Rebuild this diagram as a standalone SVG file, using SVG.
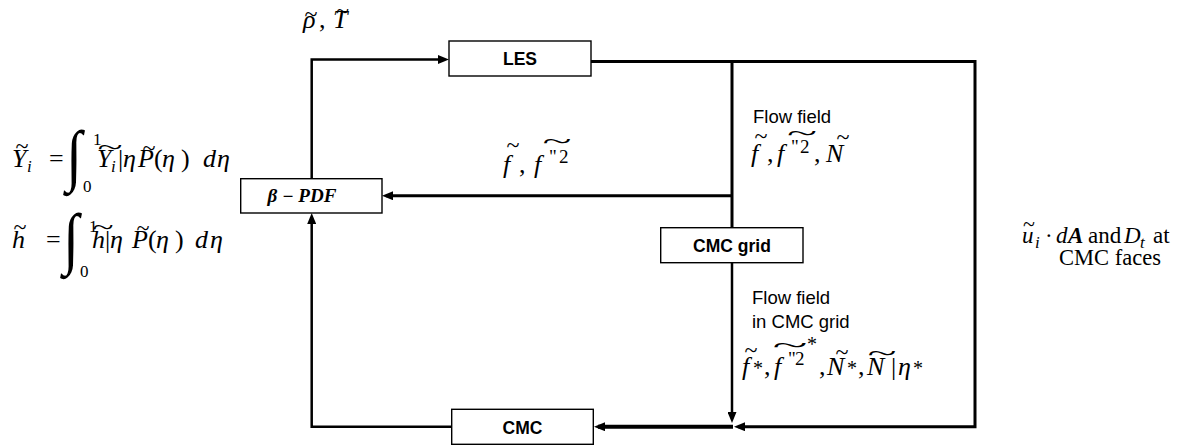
<svg xmlns="http://www.w3.org/2000/svg" width="1204" height="447" viewBox="0 0 1204 447">
<style>
.box{fill:#fff;stroke:#000;stroke-width:1.4}
.lbl{font-family:"Liberation Sans",Arial,sans-serif;font-weight:bold;font-size:17.5px;text-anchor:middle;fill:#000}
.ar{font-family:"Liberation Sans",Arial,sans-serif;font-size:18.5px;fill:#000}
.m{font-family:"Liberation Serif","Times New Roman",serif;font-style:italic;font-size:26px;fill:#000}
.r{font-style:normal}
.sb{font-size:17px}
.sn{font-size:17px;font-style:normal}
.sp{font-size:19px;font-style:normal}
.st{font-size:20px;font-style:normal}
.tl{font-size:24px;font-style:normal}
.it{font-family:"Liberation Serif","Times New Roman",serif;font-size:68px;fill:#000}
.ln{fill:none;stroke:#000;stroke-linejoin:miter}
</style>
<defs>
<marker id="ah" markerUnits="userSpaceOnUse" markerWidth="11" markerHeight="9" refX="7" refY="4.5" orient="auto">
<path d="M0,0 L11,4.5 L0,9 z" fill="#000"/>
</marker>
</defs>

<g id="connectors">
<path class="ln" d="M311.7,178.7 V59.5 H445" stroke-width="2.5" marker-end="url(#ah)"/>
<path class="ln" d="M591,61.5 H975 V426.7 H738" stroke-width="3" marker-end="url(#ah)"/>
<path class="ln" d="M732,61.5 V227.7" stroke-width="3"/>
<path class="ln" d="M732,195.7 H386" stroke-width="3" marker-end="url(#ah)"/>
<path class="ln" d="M732,262.7 V419" stroke-width="2.5" marker-end="url(#ah)"/>
<path class="ln" d="M733,426.7 H598" stroke-width="4" marker-end="url(#ah)"/>
<path class="ln" d="M451.7,426.7 H311.7 V217" stroke-width="2.5" marker-end="url(#ah)"/>
</g>

<g id="node-les">
<rect class="box" x="449" y="41" width="142" height="35"/>
<text class="lbl" x="520" y="65">LES</text>
</g>
<g id="node-bpdf">
<rect class="box" x="240.7" y="178.7" width="141.3" height="34.3"/>
<text x="302" y="202" font-family="Liberation Serif,serif" font-weight="bold" font-style="italic" font-size="18" text-anchor="middle" textLength="69" lengthAdjust="spacingAndGlyphs">β − PDF</text>
</g>
<g id="node-cmcgrid">
<rect class="box" x="660.7" y="227.7" width="142.3" height="35"/>
<text class="lbl" x="732" y="251.5">CMC grid</text>
</g>
<g id="node-cmc">
<rect class="box" x="451.7" y="409.3" width="141.6" height="35"/>
<text class="lbl" x="522.5" y="433.5">CMC</text>
</g>

<g id="labels">
<!-- rho, T -->
<text class="m"><tspan x="303" y="28">ρ</tspan><tspan class="r" x="319">,</tspan><tspan x="333">T</tspan><tspan class="tl" x="304.5" y="22">~</tspan><tspan class="tl" x="336" y="19">~</tspan></text>

<!-- left equation 1 -->
<text class="it" x="66" y="178" transform="translate(66 0) scale(0.85 1) translate(-66 0)">∫</text>
<text class="m"><tspan x="12" y="167">Y</tspan><tspan class="sb" x="27" y="172">i</tspan><tspan class="r" x="49" y="167">=</tspan><tspan class="sn" x="93" y="145">1</tspan><tspan class="sn" x="83" y="192">0</tspan><tspan x="97" y="167">Y</tspan><tspan class="sb" x="111" y="172">i</tspan><tspan class="r" x="118" y="167">|</tspan><tspan x="123">η</tspan><tspan x="138">P</tspan><tspan class="r" x="154">(</tspan><tspan x="162">η</tspan><tspan class="r" x="181">)</tspan><tspan x="203">d</tspan><tspan x="217">η</tspan><tspan class="tl" x="15.5" y="154">~</tspan><tspan class="tl" x="97.5" y="155" textLength="25" lengthAdjust="spacingAndGlyphs">~</tspan><tspan class="tl" x="142.5" y="156">~</tspan></text>

<!-- left equation 2 -->
<text class="it" x="63" y="261" transform="translate(63 0) scale(0.85 1) translate(-63 0)">∫</text>
<text class="m"><tspan x="12" y="248">h</tspan><tspan class="r" x="46">=</tspan><tspan class="sn" x="89" y="232">1</tspan><tspan class="sn" x="80" y="277">0</tspan><tspan x="92" y="248">h</tspan><tspan class="r" x="105">|</tspan><tspan x="110">η</tspan><tspan x="132">P</tspan><tspan class="r" x="148">(</tspan><tspan x="156">η</tspan><tspan class="r" x="175">)</tspan><tspan x="195">d</tspan><tspan x="210">η</tspan><tspan class="tl" x="13.5" y="235">~</tspan><tspan class="tl" x="92.5" y="235" textLength="21" lengthAdjust="spacingAndGlyphs">~</tspan><tspan class="tl" x="136.5" y="236">~</tspan></text>

<!-- f, f"2 on arrow to beta-PDF -->
<text class="m"><tspan x="503" y="173">f</tspan><tspan class="r" x="519">,</tspan><tspan x="534">f</tspan><tspan class="sp" x="549" y="163">"</tspan><tspan class="sp" x="559" y="163">2</tspan><tspan class="tl" x="506.5" y="153">~</tspan><tspan class="tl" x="542.5" y="149" textLength="29" lengthAdjust="spacingAndGlyphs">~</tspan></text>

<!-- flow field upper -->
<text class="ar" x="753" y="122.5">Flow field</text>
<text class="m"><tspan x="751" y="162">f</tspan><tspan class="r" x="767">,</tspan><tspan x="777">f</tspan><tspan class="sp" x="791" y="153">"</tspan><tspan class="sp" x="800" y="153">2</tspan><tspan class="r" x="814" y="162">,</tspan><tspan x="826">N</tspan><tspan class="tl" x="754.5" y="144">~</tspan><tspan class="tl" x="787" y="141" textLength="30" lengthAdjust="spacingAndGlyphs">~</tspan><tspan class="tl" x="836.5" y="145">~</tspan></text>

<!-- flow field lower -->
<text class="ar" x="752" y="304">Flow field</text>
<text class="ar" x="752" y="328">in CMC grid</text>
<text class="m"><tspan x="742" y="375">f</tspan><tspan class="st" x="753" y="375">*</tspan><tspan class="r" x="764" y="375">,</tspan><tspan x="774">f</tspan><tspan class="sp" x="788" y="365">"</tspan><tspan class="sp" x="795" y="365">2</tspan><tspan class="st" x="807" y="351">*</tspan><tspan class="r" x="819" y="375">,</tspan><tspan x="827">N</tspan><tspan class="st" x="847" y="375">*</tspan><tspan class="r" x="858" y="375">,</tspan><tspan x="867">N</tspan><tspan class="r" x="891">|</tspan><tspan x="898">η</tspan><tspan class="st" x="913" y="375">*</tspan><tspan class="tl" x="744.5" y="358">~</tspan><tspan class="tl" x="772.5" y="353" textLength="35" lengthAdjust="spacingAndGlyphs">~</tspan><tspan class="tl" x="835.5" y="360">~</tspan><tspan class="tl" x="867.5" y="361" textLength="29" lengthAdjust="spacingAndGlyphs">~</tspan></text>

<!-- right label -->
<text class="m" style="font-size:23px"><tspan x="1022" y="243">u</tspan><tspan class="sb" x="1035" y="248">i</tspan><tspan class="r" x="1045" y="243">·</tspan><tspan x="1056">d</tspan><tspan x="1068" font-weight="bold">A</tspan><tspan class="r" x="1088">and</tspan><tspan x="1124">D</tspan><tspan class="sb" x="1140" y="248">t</tspan><tspan class="r" x="1153" y="243">at</tspan><tspan class="r" x="1023" y="231" style="font-size:22px">~</tspan></text>
<text x="1110" y="265" font-family="Liberation Serif,serif" font-size="22.5" text-anchor="middle" fill="#000">CMC faces</text>
</g>
</svg>
